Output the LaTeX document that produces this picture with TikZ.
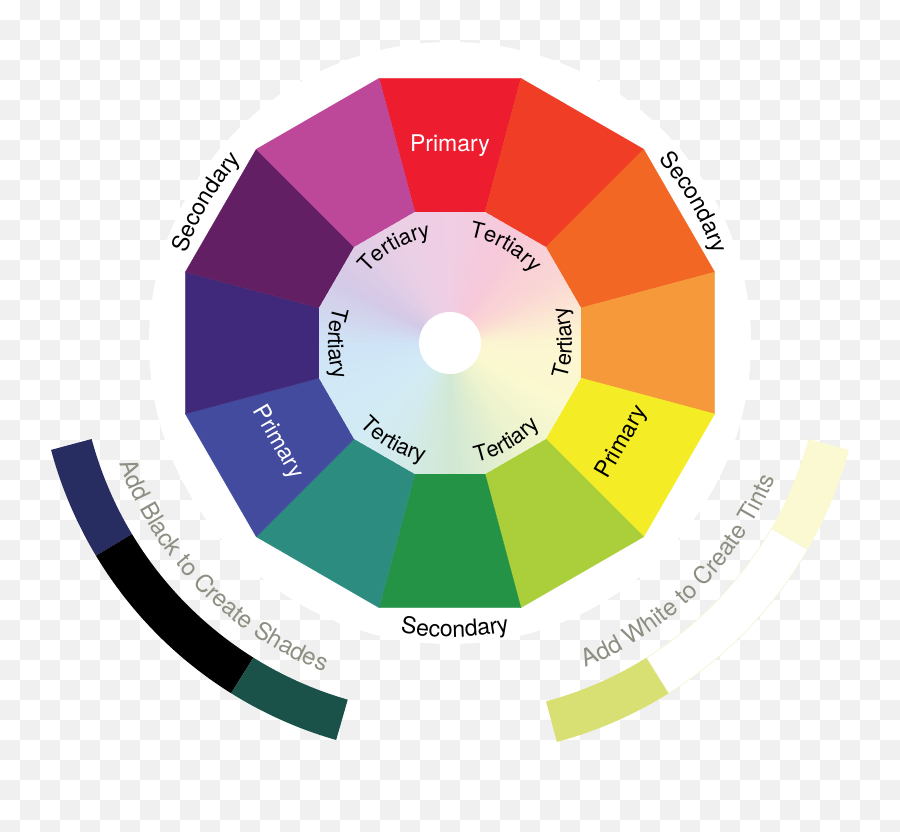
\documentclass[tikz,border=0pt]{standalone}
\usepackage{fontspec}
\setmainfont{TeX Gyre Heros}
\usetikzlibrary{decorations.text}
\definecolor{chk}{HTML}{F0F0F0}
\definecolor{cR}{HTML}{ED1C2E}
\definecolor{cRO}{HTML}{EF3E25}
\definecolor{cO}{HTML}{F26724}
\definecolor{cYO}{HTML}{F6993A}
\definecolor{cY}{HTML}{F4EC25}
\definecolor{cYG}{HTML}{ABCF3A}
\definecolor{cG}{HTML}{249346}
\definecolor{cT}{HTML}{2D8C80}
\definecolor{cB}{HTML}{434B9E}
\definecolor{cI}{HTML}{40297A}
\definecolor{cP}{HTML}{621F63}
\definecolor{cM}{HTML}{BD4799}
\definecolor{g0}{HTML}{FCF5D2}
\definecolor{g1}{HTML}{FAD6D4}
\definecolor{g2}{HTML}{F7C9DA}
\definecolor{g3}{HTML}{F0CEE4}
\definecolor{g4}{HTML}{E8CFE6}
\definecolor{g5}{HTML}{D4C9E6}
\definecolor{g6}{HTML}{CFE4F6}
\definecolor{g7}{HTML}{D2EAF6}
\definecolor{g8}{HTML}{D3EBEF}
\definecolor{g9}{HTML}{D2E8D4}
\definecolor{g10}{HTML}{EAF2CE}
\definecolor{g11}{HTML}{FBF9D0}
\definecolor{sNavy}{HTML}{272C61}
\definecolor{sTeal}{HTML}{1A5149}
\definecolor{tYG}{HTML}{D8E074}
\definecolor{tY}{HTML}{FBF9D2}
\definecolor{tEdge}{HTML}{F2F4D0}
\definecolor{capgray}{HTML}{8E8E82}
\newcommand\arclabel[6]{%
  \path[decorate,decoration={text along path,text={|\fontsize{#5}{#5}\selectfont|#4},text align=center,text color=#6}]
    (#2:#1) arc[start angle=#2,end angle=#3,radius=#1];}
\newcommand\ringseg[3]{%
  \fill[#3] (#1:371) arc[start angle=#1,end angle=#2,radius=371] -- (#2:413) arc[start angle=#2,end angle=#1,radius=413] -- cycle;}
\tikzset{
  lab/.style={font=\fontsize{23}{23}\selectfont, inner sep=0pt}
}
\begin{document}
\begin{tikzpicture}[x=1pt,y=1pt]
\useasboundingbox (0,0) rectangle (900,831);
\fill[white] (0,0) rectangle (900,831);
\foreach \j in {0,...,41}{
  \foreach \i in {0,...,44}{
    \pgfmathtruncatemacro\m{mod(\i+\j,2)}
    \ifnum\m=1 \fill[chk] (20*\i,831-20*\j) rectangle ++(20,-20); \fi
  }}
\begin{scope}[shift={(450,488)}]
  % white disc
  \fill[white] (0,0) circle[radius=301];
  % outer segments
  \foreach \a/\c in {90/cR,60/cRO,30/cO,0/cYO,-30/cY,-60/cYG,-90/cG,-120/cT,-150/cB,180/cI,150/cP,120/cM}{
    \fill[\c,draw=\c,line width=0.3pt] ({\a-15}:274) -- ({\a+15}:274) -- ({\a+15}:135.6) -- ({\a-15}:135.6) -- cycle;
  }
  % inner pastel polygon
  \begin{scope}
    \clip (15:135.6) \foreach \k in {1,...,11}{ -- ({15+30*\k}:135.6) } -- cycle;
    \foreach \k in {0,...,11}{
      \pgfmathtruncatemacro\n{mod(\k+1,12)}
      \foreach \t in {0,...,9}{
        \pgfmathtruncatemacro\p{100-10*\t}
        \fill[g\k!\p!g\n] (0,0) -- ({30*\k+3*\t-0.4}:160) -- ({30*\k+3*\t+3.4}:160) -- cycle;
      }}
  \end{scope}
  \fill[white] (0,0) circle[radius=31];
  % primary labels
  \node[lab,text=white] (prim1) at (90:197) {Primary};
  \node[lab,text=white,rotate=-60] (prim2) at (210:199) {Primary};
  \node[lab,text=black,rotate=60] (prim3) at (-30:199) {Primary};
  % secondary labels
  \arclabel{278}{190}{110}{Secondary}{23}{black}
  \arclabel{278}{70}{-10}{Secondary}{23}{black}
  \arclabel{294}{231}{311}{Secondary}{23}{black}
  % tertiary labels
  \arclabel{108}{165}{75}{Tertiary}{22}{black}
  \arclabel{108}{105}{15}{Tertiary}{22}{black}
  \arclabel{122}{-45}{45}{Tertiary}{22}{black}
  \arclabel{122}{135}{225}{Tertiary}{22}{black}
  \arclabel{122}{195}{285}{Tertiary}{22}{black}
  \arclabel{122}{255}{345}{Tertiary}{22}{black}
  % shades ring
  \ringseg{195}{211}{sNavy}
  \ringseg{211}{238}{black}
  \ringseg{238}{254}{sTeal}
  % tints ring
  \ringseg{-75}{-58}{tYG}
  \fill[white,draw=tEdge,line width=0.6pt] (-58:371) arc[start angle=-58,end angle=-30,radius=371] -- (-30:413) arc[start angle=-30,end angle=-58,radius=413] -- cycle;
  \ringseg{-30}{-15}{tY}
  % ring captions
  \arclabel{352}{195}{254}{Add Black to Create Shades}{24}{capgray}
  \arclabel{352}{-75}{-15}{Add White to Create Tints}{24}{capgray}
\end{scope}
\end{tikzpicture}
\end{document}
